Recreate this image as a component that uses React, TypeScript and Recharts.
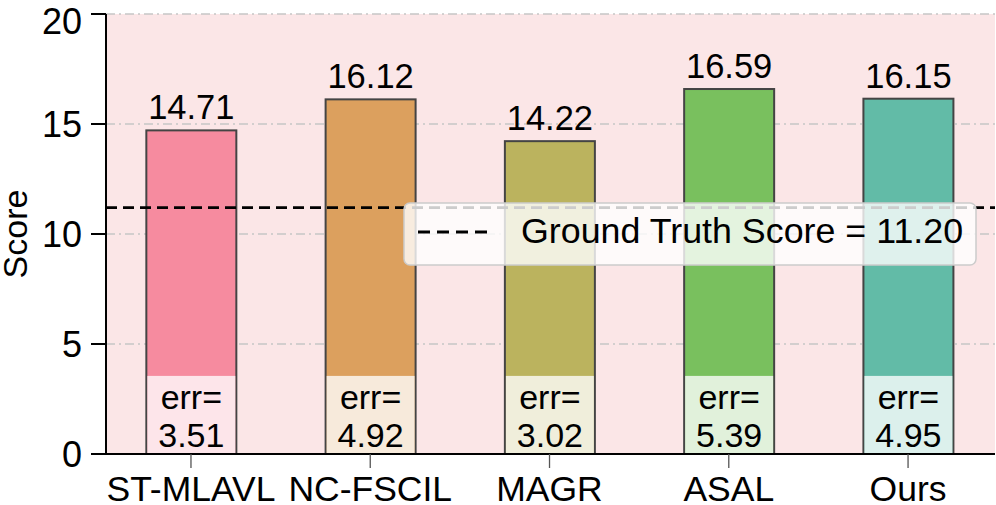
import { BarChart, Bar, XAxis, YAxis, CartesianGrid, ReferenceLine, LabelList } from 'recharts';

const FONT = '"Liberation Sans", Arial, Helvetica, sans-serif';

const METHODS = ['ST-MLAVL', 'NC-FSCIL', 'MAGR', 'ASAL', 'Ours'];
const SCORES = [14.71, 16.12, 14.22, 16.59, 16.15];
const ERRORS = [3.51, 4.92, 3.02, 5.39, 4.95];
const COLORS = ['#f68b9f', '#dca05e', '#bbb35e', '#79c05e', '#62bba7'];
const Y_TICKS = [0, 5, 10, 15, 20];
const GT_SCORE = 11.2;
const ERR_BOX_TOP = 3.55; // height of the light "err=" box, in score units

const data = METHODS.map((name, i) => ({
  pos: i,
  name,
  score: SCORES[i],
  err: ERRORS[i],
  color: COLORS[i],
}));

// bar + light box at the bottom with the error text
function ScoreBar(props: any) {
  const { x, y, width, height, payload } = props;
  const bottom = y + height;
  const pxPerUnit = height / payload.score;
  const boxTop = bottom - ERR_BOX_TOP * pxPerUnit;
  const cx = x + width / 2;
  return (
    <g>
      <rect x={x} y={y} width={width} height={height} fill={payload.color} stroke="#444" strokeWidth={2} />
      <rect x={x + 1} y={boxTop} width={width - 2} height={bottom - boxTop} fill="#fff" fillOpacity={0.78} />
      <text x={cx} y={boxTop + 33} textAnchor="middle" fontSize={34} fontFamily={FONT} fill="#000">
        err=
      </text>
      <text x={cx} y={boxTop + 71} textAnchor="middle" fontSize={34} fontFamily={FONT} fill="#000">
        {payload.err.toFixed(2)}
      </text>
    </g>
  );
}

function YLabel(props: any) {
  const vb = props.viewBox || { y: 14, height: 440 };
  const cy = vb.y + vb.height / 2;
  return (
    <text x={27} y={cy} transform={`rotate(-90, 27, ${cy})`} textAnchor="middle" fontSize={34} fontFamily={FONT} fill="#000">
      Score
    </text>
  );
}

function GtLegend() {
  return (
    <svg width={574} height={64} style={{ display: 'block' }}>
      <rect x={1} y={1} width={572} height={62} rx={6} fill="#fff" fillOpacity={0.8} stroke="#cccccc" strokeWidth={1.5} />
      <line x1={15} y1={30} x2={88} y2={30} stroke="#000" strokeWidth={3} strokeDasharray="12 7" />
      <text x={118} y={41} fontSize={35.8} fontFamily={FONT} fill="#000">
        Ground Truth Score = {GT_SCORE.toFixed(2)}
      </text>
    </svg>
  );
}

export default function App() {
  return (
    <div style={{ position: 'absolute', left: 0, top: 0, width: 996, height: 505, background: '#fff' }}>
      <BarChart width={996} height={505} data={data} margin={{ top: 14, right: 1, left: 0, bottom: 0 }}>
        <CartesianGrid
          vertical={false}
          fill="#fbe6e7"
          fillOpacity={1}
          stroke="#c6c6c6"
          strokeWidth={1.3}
          strokeDasharray="9 4 2 4"
        />
        <XAxis
          dataKey="pos"
          type="number"
          domain={[-0.474, 4.485]}
          allowDataOverflow
          ticks={[0, 1, 2, 3, 4]}
          tickFormatter={(v: number) => METHODS[v]}
          interval={0}
          height={51}
          axisLine={{ stroke: '#000', strokeWidth: 2 }}
          tickLine={{ stroke: '#555', strokeWidth: 1.3 }}
          tickSize={14}
          tickMargin={8}
          tick={{ fontSize: 35.5, fontFamily: FONT, fill: '#000' }}
        />
        <YAxis
          type="number"
          domain={[0, 20]}
          ticks={Y_TICKS}
          width={106}
          axisLine={{ stroke: '#000', strokeWidth: 2 }}
          tickLine={{ stroke: '#000', strokeWidth: 2 }}
          tickSize={15}
          tickMargin={9}
          tick={{ fontSize: 36, fontFamily: FONT, fill: '#000' }}
          label={{ value: 'Score', content: (p: any) => <YLabel {...p} /> }}
        />
        <Bar dataKey="score" barSize={90} shape={(p: any) => <ScoreBar {...p} />} isAnimationActive={false}>
          <LabelList dataKey="score" position="top" offset={11} fontSize={34.5} fontFamily={FONT} fill="#000" formatter={(v: any) => Number(v).toFixed(2)} />
        </Bar>
        <ReferenceLine y={GT_SCORE} stroke="#000" strokeWidth={2.6} strokeDasharray="11 6" />
      </BarChart>
      <div style={{ position: 'absolute', left: 403, top: 202 }}>
        <GtLegend />
      </div>
    </div>
  );
}
